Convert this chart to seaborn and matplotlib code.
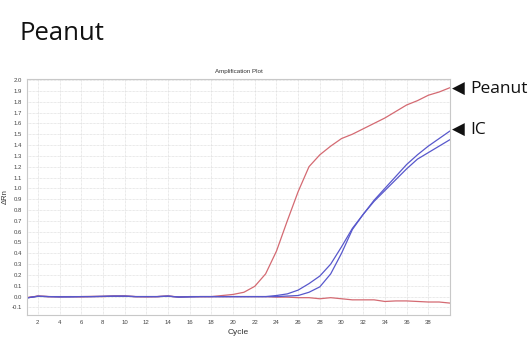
import matplotlib
matplotlib.use("Agg")
import matplotlib.pyplot as plt
import seaborn as sns
import pandas as pd
import numpy as np

cycles = list(range(1, 41))
peanut_amp = [-0.01, 0.005, 0.0, 0.0, 0.0, -0.002, 0.0, 0.003, 0.005, 0.005,
              0.0, 0.0, 0.0, 0.005, -0.003, 0.0, 0.0, 0.0, 0.01, 0.02,
              0.04, 0.095, 0.21, 0.42, 0.70, 0.97, 1.20, 1.31, 1.39, 1.46,
              1.50, 1.55, 1.60, 1.65, 1.71, 1.77, 1.81, 1.86, 1.89, 1.93]
peanut_neg = [-0.01, 0.004, 0.0, -0.002, 0.0, 0.0, 0.002, 0.0, 0.004, 0.004,
              0.0, -0.002, 0.0, 0.004, -0.004, 0.0, 0.0, 0.0, 0.0, 0.0,
              0.0, 0.0, 0.0, -0.005, -0.005, -0.01, -0.01, -0.02, -0.01, -0.02,
              -0.03, -0.03, -0.03, -0.045, -0.04, -0.04, -0.045, -0.05, -0.05, -0.06]
ic_1 = [-0.012, 0.003, 0.0, -0.002, -0.002, 0.0, 0.0, 0.002, 0.004, 0.004,
        0.0, 0.0, 0.0, 0.004, -0.004, -0.002, 0.0, 0.0, 0.0, 0.0,
        0.0, 0.0, 0.0, 0.01, 0.025, 0.06, 0.12, 0.19, 0.30, 0.46,
        0.63, 0.76, 0.88, 0.98, 1.08, 1.18, 1.27, 1.33, 1.39, 1.45]
ic_2 = [-0.012, 0.003, 0.0, -0.002, -0.002, 0.0, 0.0, 0.002, 0.004, 0.004,
        0.0, 0.0, 0.0, 0.004, -0.004, -0.002, 0.0, 0.0, 0.0, 0.0,
        0.0, 0.0, 0.0, 0.0, 0.005, 0.01, 0.04, 0.09, 0.21, 0.40,
        0.62, 0.76, 0.89, 1.00, 1.11, 1.22, 1.31, 1.39, 1.46, 1.53]

series = {"Peanut": peanut_amp, "Peanut NTC": peanut_neg, "IC 1": ic_1, "IC 2": ic_2}
rows = []
for name, vals in series.items():
    for c, v in zip(cycles, vals):
        rows.append({"Cycle": c, "dRn": v, "series": name})
df = pd.DataFrame(rows)

sns.set_style("white")
plt.rcParams['font.family'] = ['Liberation Sans', 'DejaVu Sans']

fig = plt.figure(figsize=(5.32, 3.56), dpi=100)
ax = fig.add_axes([27/532, 1-315/356, (450-27)/532, (315-79)/356])

red = "#d46a72"
blue = "#5858cc"
palette = {"Peanut NTC": red, "IC 1": blue, "IC 2": blue, "Peanut": red}
sns.lineplot(data=df, x="Cycle", y="dRn", hue="series", palette=palette,
             hue_order=["Peanut NTC", "Peanut", "IC 1", "IC 2"],
             linewidth=0.9, legend=False, ax=ax, estimator=None)

ax.set_xlim(1, 40)
ax.set_ylim(-0.17, 2.01)
ax.set_xticks(range(2, 40, 2))
yt = np.round(np.arange(-0.1, 2.01, 0.1), 1)
ax.set_yticks(yt)
ax.set_yticklabels([f"{v:.1f}" for v in yt])
ax.tick_params(labelsize=4.3, colors="#444444", length=1.5, width=0.4, pad=2)
ax.grid(True, color="#d4d4d4", linestyle=(0, (1, 1)), linewidth=0.5)
for s in ax.spines.values():
    s.set_color("#c8c8c8")
    s.set_linewidth(0.8)
ax.set_xlabel("Cycle", fontsize=6, color="#333333", labelpad=3)
ax.set_ylabel("ΔRn", fontsize=5.5, color="#333333", labelpad=2)
ax.set_title("Amplification Plot", fontsize=4.5, color="#333333", pad=4)

fig.text(19/532, 1-33/356, "Peanut", fontsize=18.5, family=['Open Sans', 'DejaVu Sans'],
         va="center", ha="left", color="#111111")
fig.text(452/532, 1-89/356, "◀", fontsize=12, family=['DejaVu Sans'],
         va="center", ha="left", color="#111111")
fig.text(470/532, 1-89/356, "Peanut", fontsize=12.5, family=['Open Sans', 'DejaVu Sans'],
         va="center", ha="left", color="#111111")
fig.text(452/532, 1-130/356, "◀", fontsize=12, family=['DejaVu Sans'],
         va="center", ha="left", color="#111111")
fig.text(470/532, 1-130/356, "IC", fontsize=12.5, family=['Open Sans', 'DejaVu Sans'],
         va="center", ha="left", color="#111111")

fig.savefig("out.png", dpi=100)
